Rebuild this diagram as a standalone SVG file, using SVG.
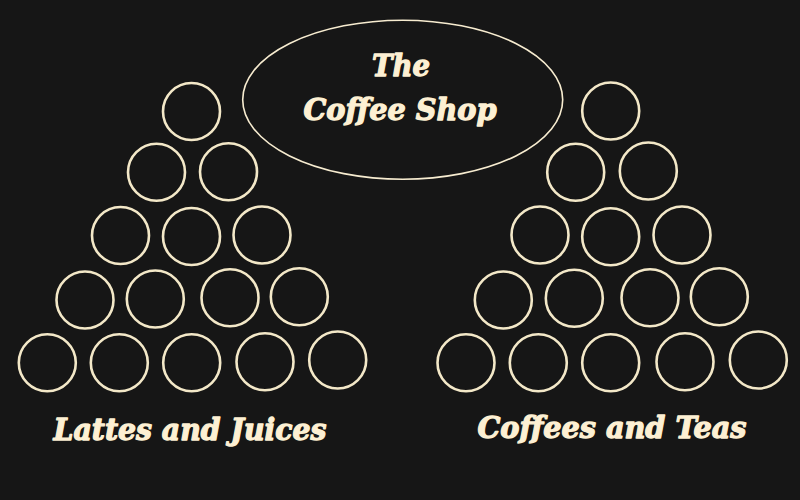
<svg xmlns="http://www.w3.org/2000/svg" width="800" height="500" viewBox="0 0 800 500">
<style>
.bg{fill:#161616}
.cup{fill:none;stroke:#f3e8c8;stroke-width:2.6}
.oval{fill:none;stroke:#f7ecd0;stroke-width:1.6}
.t{font-family:"DejaVu Serif","Liberation Serif",serif;font-weight:bold;font-style:italic;fill:#fdf0d3;stroke:#fdf0d3;stroke-width:1.3;stroke-linejoin:round;text-anchor:middle}
</style>
<rect class="bg" x="0" y="0" width="800" height="500"/>
<g id="title">
<ellipse class="oval" cx="402.7" cy="99.7" rx="160" ry="79.5"/>
<text class="t" x="401" y="76" font-size="30" textLength="58" lengthAdjust="spacingAndGlyphs">The</text>
<text class="t" x="400" y="119.5" font-size="30" textLength="193" lengthAdjust="spacingAndGlyphs">Coffee Shop</text>
</g>
<g id="left-group">
<g id="l1"><circle class="cup" cx="191.5" cy="111.5" r="28.5"/></g>
<g id="l2"><circle class="cup" cx="156.5" cy="172.2" r="28.5"/></g>
<g id="l3"><circle class="cup" cx="228.5" cy="171.7" r="28.5"/></g>
<g id="l4"><circle class="cup" cx="120.5" cy="235.5" r="28.5"/></g>
<g id="l5"><circle class="cup" cx="191.5" cy="236.5" r="28.5"/></g>
<g id="l6"><circle class="cup" cx="262" cy="235" r="28.5"/></g>
<g id="l7"><circle class="cup" cx="85" cy="300" r="28.5"/></g>
<g id="l8"><circle class="cup" cx="155.3" cy="299" r="28.5"/></g>
<g id="l9"><circle class="cup" cx="230" cy="297.7" r="28.5"/></g>
<g id="l10"><circle class="cup" cx="299.3" cy="296.7" r="28.5"/></g>
<g id="l11"><circle class="cup" cx="47.3" cy="362.7" r="28.5"/></g>
<g id="l12"><circle class="cup" cx="119.3" cy="362.7" r="28.5"/></g>
<g id="l13"><circle class="cup" cx="191.7" cy="362.7" r="28.5"/></g>
<g id="l14"><circle class="cup" cx="265" cy="361.7" r="28.5"/></g>
<g id="l15"><circle class="cup" cx="337.7" cy="360" r="28.5"/></g>
<text class="t" x="190" y="439.5" font-size="30" textLength="273" lengthAdjust="spacingAndGlyphs">Lattes and Juices</text>
</g>
<g id="right-group">
<g id="r1"><circle class="cup" cx="610.7" cy="111" r="28.5"/></g>
<g id="r2"><circle class="cup" cx="575.7" cy="172.3" r="28.5"/></g>
<g id="r3"><circle class="cup" cx="648.3" cy="171" r="28.5"/></g>
<g id="r4"><circle class="cup" cx="540" cy="235" r="28.5"/></g>
<g id="r5"><circle class="cup" cx="610.7" cy="236.7" r="28.5"/></g>
<g id="r6"><circle class="cup" cx="682" cy="235" r="28.5"/></g>
<g id="r7"><circle class="cup" cx="503.3" cy="300" r="28.5"/></g>
<g id="r8"><circle class="cup" cx="574.3" cy="298.3" r="28.5"/></g>
<g id="r9"><circle class="cup" cx="650" cy="297.7" r="28.5"/></g>
<g id="r10"><circle class="cup" cx="719.3" cy="296.7" r="28.5"/></g>
<g id="r11"><circle class="cup" cx="466" cy="362.7" r="28.5"/></g>
<g id="r12"><circle class="cup" cx="538.3" cy="362.7" r="28.5"/></g>
<g id="r13"><circle class="cup" cx="610.7" cy="362.7" r="28.5"/></g>
<g id="r14"><circle class="cup" cx="685" cy="361.7" r="28.5"/></g>
<g id="r15"><circle class="cup" cx="758.3" cy="360" r="28.5"/></g>
<text class="t" x="612" y="438" font-size="30" textLength="269" lengthAdjust="spacingAndGlyphs">Coffees and Teas</text>
</g>
</svg>
